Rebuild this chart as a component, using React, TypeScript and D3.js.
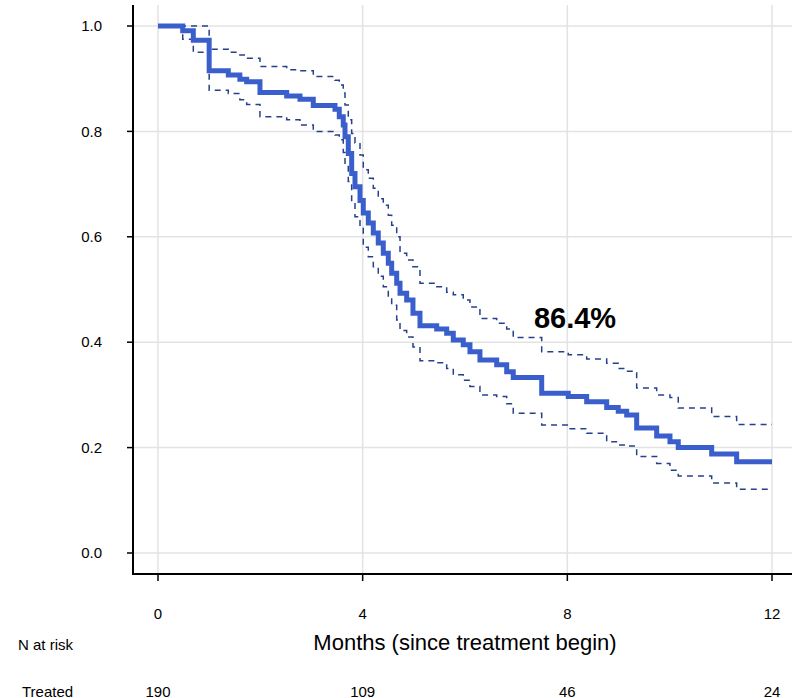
import React from "react";
import * as d3 from "d3";

const times = [0, 0.483, 0.69, 1.0, 1.374, 1.6, 1.733, 1.993, 2.515, 2.775, 3.035, 3.459, 3.543, 3.621, 3.655, 3.719, 3.785, 3.85, 3.948, 4.012, 4.11, 4.208, 4.305, 4.403, 4.501, 4.567, 4.665, 4.73, 4.86, 4.983, 5.12, 5.447, 5.642, 5.771, 5.966, 6.097, 6.292, 6.619, 6.815, 6.943, 7.499, 8.018, 8.378, 8.769, 8.995, 9.16, 9.355, 9.746, 10.006, 10.168, 10.821, 11.309];
const survival = [1.0, 0.991, 0.973, 0.915, 0.907, 0.899, 0.894, 0.874, 0.867, 0.861, 0.849, 0.842, 0.828, 0.812, 0.79, 0.758, 0.72, 0.695, 0.669, 0.645, 0.626, 0.607, 0.588, 0.569, 0.55, 0.531, 0.512, 0.493, 0.48, 0.455, 0.431, 0.425, 0.417, 0.404, 0.395, 0.382, 0.366, 0.357, 0.344, 0.333, 0.303, 0.297, 0.287, 0.276, 0.269, 0.262, 0.237, 0.222, 0.211, 0.2, 0.188, 0.173];
const upper = [1.0, 1.0, 1.0, 0.956, 0.95, 0.945, 0.939, 0.923, 0.917, 0.915, 0.904, 0.897, 0.888, 0.873, 0.85, 0.822, 0.796, 0.778, 0.755, 0.727, 0.711, 0.692, 0.672, 0.66, 0.641, 0.622, 0.6, 0.569, 0.556, 0.543, 0.512, 0.505, 0.495, 0.49, 0.48, 0.467, 0.445, 0.436, 0.425, 0.409, 0.382, 0.376, 0.368, 0.36, 0.35, 0.345, 0.313, 0.3, 0.295, 0.275, 0.259, 0.244];
const lower = [1.0, 0.975, 0.95, 0.878, 0.872, 0.86, 0.851, 0.828, 0.822, 0.812, 0.8, 0.793, 0.784, 0.76, 0.735, 0.705, 0.665, 0.638, 0.62, 0.58, 0.562, 0.543, 0.525, 0.505, 0.486, 0.47, 0.442, 0.422, 0.41, 0.391, 0.365, 0.361, 0.35, 0.338, 0.328, 0.316, 0.3, 0.297, 0.283, 0.265, 0.243, 0.236, 0.227, 0.211, 0.205, 0.203, 0.183, 0.17, 0.157, 0.146, 0.133, 0.121];
const endTime = 12;

const xTicks = [0, 4, 8, 12];
const yTicks = [0, 0.2, 0.4, 0.6, 0.8, 1.0];
const riskTimes = [0, 4, 8, 12];
const riskCounts = [190, 109, 46, 24];
const riskGroup = "Treated";
const annotation = "86.4%";
const annotationTime = 8.15;
const annotationValue = 0.427;

const FONT = "'Liberation Sans', Arial, Helvetica, sans-serif";

export default function App() {
  const W = 792;
  const H = 698;
  const x = d3.scaleLinear().domain([0, 12]).range([158, 772]);
  const y = d3.scaleLinear().domain([0, 1]).range([553, 26]);
  const axisX = 133;
  const axisY = 574;
  const top = 5;

  const mk = (vals: number[]) => {
    const pts: [number, number][] = times.map((t, i) => [t, vals[i]]);
    pts.push([endTime, vals[vals.length - 1]]);
    return d3
      .line<[number, number]>()
      .x((d) => x(d[0]))
      .y((d) => y(d[1]))
      .curve(d3.curveStepAfter)(pts) as string;
  };

  const blue = "#3A5FCD";
  const navy = "#27408B";

  return (
    <div style={{ position: "absolute", left: 0, top: 0 }}>
      <svg width={W} height={H} style={{ display: "block", background: "#fff" }}>
        {yTicks.map((v) => (
          <line key={"gy" + v} x1={axisX} x2={W} y1={y(v)} y2={y(v)} stroke="#e3e3e3" strokeWidth={1.5} />
        ))}
        {xTicks.map((v) => (
          <line key={"gx" + v} x1={x(v)} x2={x(v)} y1={top} y2={axisY} stroke="#e3e3e3" strokeWidth={1.5} />
        ))}
        <path d={mk(upper)} fill="none" stroke={navy} strokeWidth={1.5} strokeDasharray="6,5" />
        <path d={mk(lower)} fill="none" stroke={navy} strokeWidth={1.5} strokeDasharray="6,5" />
        <path d={mk(survival)} fill="none" stroke={blue} strokeWidth={5} strokeLinejoin="miter" />
        <line x1={axisX} x2={axisX} y1={top} y2={axisY + 1} stroke="#000" strokeWidth={2} />
        <line x1={axisX - 1} x2={W} y1={axisY} y2={axisY} stroke="#000" strokeWidth={2} />
        {yTicks.map((v) => (
          <g key={"yt" + v}>
            <line x1={axisX - 6} x2={axisX} y1={y(v)} y2={y(v)} stroke="#000" strokeWidth={1.5} />
            <text x={102} y={y(v)} dy="0.35em" textAnchor="end" fontFamily={FONT} fontSize={15} fill="#000">
              {v.toFixed(1)}
            </text>
          </g>
        ))}
        {xTicks.map((v) => (
          <g key={"xt" + v}>
            <line x1={x(v)} x2={x(v)} y1={axisY} y2={axisY + 7} stroke="#000" strokeWidth={1.5} />
            <text x={x(v)} y={619} textAnchor="middle" fontFamily={FONT} fontSize={15} fill="#000">
              {v}
            </text>
          </g>
        ))}
        <text x={465} y={650} textAnchor="middle" fontFamily={FONT} fontSize={22} fill="#000">
          Months (since treatment begin)
        </text>
        <text x={18} y={650} fontFamily={FONT} fontSize={15} fill="#000">
          N at risk
        </text>
        <text x={22} y={697} fontFamily={FONT} fontSize={15} fill="#000">
          {riskGroup}
        </text>
        {riskTimes.map((t, i) => (
          <text key={"r" + t} x={x(t)} y={697} textAnchor="middle" fontFamily={FONT} fontSize={15} fill="#000">
            {riskCounts[i]}
          </text>
        ))}
        <text
          x={x(annotationTime)}
          y={y(annotationValue)}
          textAnchor="middle"
          fontFamily={FONT}
          fontSize={29}
          fontWeight="bold"
          fill="#000"
        >
          {annotation}
        </text>
      </svg>
    </div>
  );
}
